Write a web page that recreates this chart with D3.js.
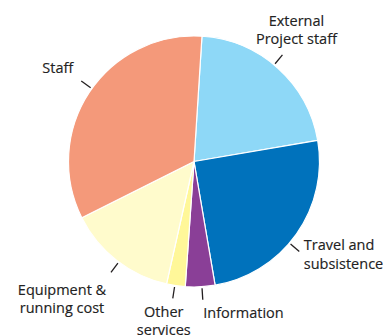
<!DOCTYPE html>
<html><head><meta charset="utf-8">
<script src="https://cdn.jsdelivr.net/npm/d3@7"></script>
<style>html,body{margin:0;padding:0;background:#fff;}svg{display:block;}</style>
</head><body>
<svg id="chart" width="383" height="335"></svg>
<script>
// Data (percent shares, clockwise starting just right of 12 o'clock)
const categories = ["External Project staff", "Travel and subsistence", "Information", "Other services", "Equipment & running cost", "Staff"];
const values = [21.3, 25.0, 3.8, 2.4, 14.1, 33.4];
const labelLines = [["External", "Project staff"], ["Travel and", "subsistence"], ["Information"], ["Other", "services"], ["Equipment &", "running cost"], ["Staff"]];
const colors = ["#8ED8F7", "#0072BC", "#8A3F97", "#FFF799", "#FFFBCC", "#F4997A"];

// label layout: tick angle tweak (deg), text offset from tick end, anchor
const layout = [
  {da: -2.3, dx: 14, dy: -29, anchor: "middle"},
  {da: 5.2, dx: 4.5, dy: -1, anchor: "start"},
  {da: -0.8, dx: 0.5, dy: 18.5, anchor: "start"},
  {da: 0.5, dx: -9, dy: 18.5, anchor: "middle"},
  {da: -1.2, dx: -49, dy: 22.5, anchor: "middle"},
  {da: 2, dx: -8, dy: -8, anchor: "end"}
];

const svg = d3.select("#chart");
const cx = 194, cy = 161.5, r = 125.5;
const g = svg.append("g").attr("transform", `translate(${cx},${cy})`);

const start = 3.64 * Math.PI / 180;
const pie = d3.pie().sort(null).value(d => d).startAngle(start).endAngle(start + 2 * Math.PI);
const arcs = pie(values);
const arc = d3.arc().innerRadius(0).outerRadius(r);

g.selectAll("path.slice").data(arcs).join("path")
  .attr("class", "slice")
  .attr("d", arc)
  .attr("fill", (d, i) => colors[i])
  .attr("stroke", "#fff")
  .attr("stroke-width", 1.2)
  .attr("stroke-linejoin", "round");

const pt = (a, rad) => [Math.sin(a) * rad, -Math.cos(a) * rad];

arcs.forEach((d, i) => {
  const L = layout[i];
  const a = (d.startAngle + d.endAngle) / 2 + L.da * Math.PI / 180;
  const p1 = pt(a, r + 1.5), p2 = pt(a, r + 13);
  g.append("line")
    .attr("x1", p1[0]).attr("y1", p1[1]).attr("x2", p2[0]).attr("y2", p2[1])
    .attr("stroke", "#231f20").attr("stroke-width", 1.3);
  const t = g.append("text")
    .attr("x", p2[0] + L.dx).attr("y", p2[1] + L.dy)
    .attr("text-anchor", L.anchor)
    .attr("font-family", "'Open Sans', sans-serif")
    .attr("font-size", 14.5)
    .attr("fill", "#222")
    .attr("stroke", "#222").attr("stroke-width", 0.15);
  labelLines[i].forEach((s, j) => {
    t.append("tspan").attr("x", p2[0] + L.dx).attr("dy", j === 0 ? 0 : 18.3).text(s);
  });
});
</script>
</body></html>
